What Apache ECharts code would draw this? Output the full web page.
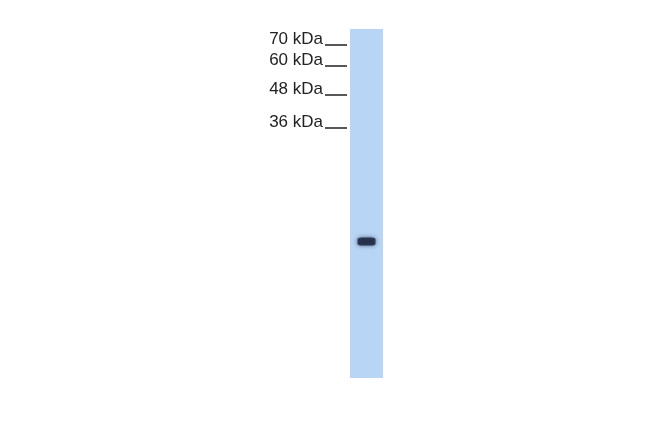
<!DOCTYPE html>
<html>
<head>
<meta charset="utf-8">
<script src="https://cdn.jsdelivr.net/npm/echarts@6/dist/echarts.min.js"></script>
<style>
html, body { margin: 0; padding: 0; background: #fff; }
#chart { width: 650px; height: 432px; }
</style>
</head>
<body>
<div id="chart"></div>
<script>
// lane and marker data (migration distance, % of lane length from the top)
var lanes = ['Lane 1'];
var laneLength = [100];
var markerLabels = ['70 kDa', '60 kDa', '48 kDa', '36 kDa'];
var markerPos = [4.6, 10.6, 18.9, 28.4];
var bandPos = [60.9];

var myChart = echarts.init(document.getElementById('chart'));

var option = {
    animation: false,
    grid: { left: 350, right: 267, top: 29, bottom: 54 },
    xAxis: {
        type: 'category',
        data: lanes,
        show: false
    },
    yAxis: {
        type: 'value',
        min: 0,
        max: 100,
        inverse: true,
        offset: 3,
        splitLine: { show: false },
        axisLine: { show: false },
        axisTick: {
            show: true,
            length: 22,
            customValues: markerPos,
            lineStyle: { color: '#222', width: 1.5 }
        },
        axisLabel: {
            customValues: markerPos,
            margin: 24,
            fontFamily: 'Liberation Sans, Arial, sans-serif',
            fontSize: 17,
            color: '#222',
            verticalAlign: 'bottom',
            lineHeight: 12,
            formatter: function (v) {
                var i = markerPos.indexOf(v);
                return i >= 0 ? markerLabels[i] : '';
            }
        }
    },
    series: [
        {
            type: 'bar',
            data: laneLength,
            barWidth: '100%',
            itemStyle: { color: '#b9d5f5' },
            silent: true
        },
        {
            type: 'scatter',
            data: bandPos,
            symbol: 'roundRect',
            symbolSize: [18, 8],
            itemStyle: {
                color: '#18223a',
                shadowBlur: 4,
                shadowColor: 'rgba(20,30,60,0.8)'
            },
            silent: true
        }
    ]
};

myChart.setOption(option);
</script>
</body>
</html>
